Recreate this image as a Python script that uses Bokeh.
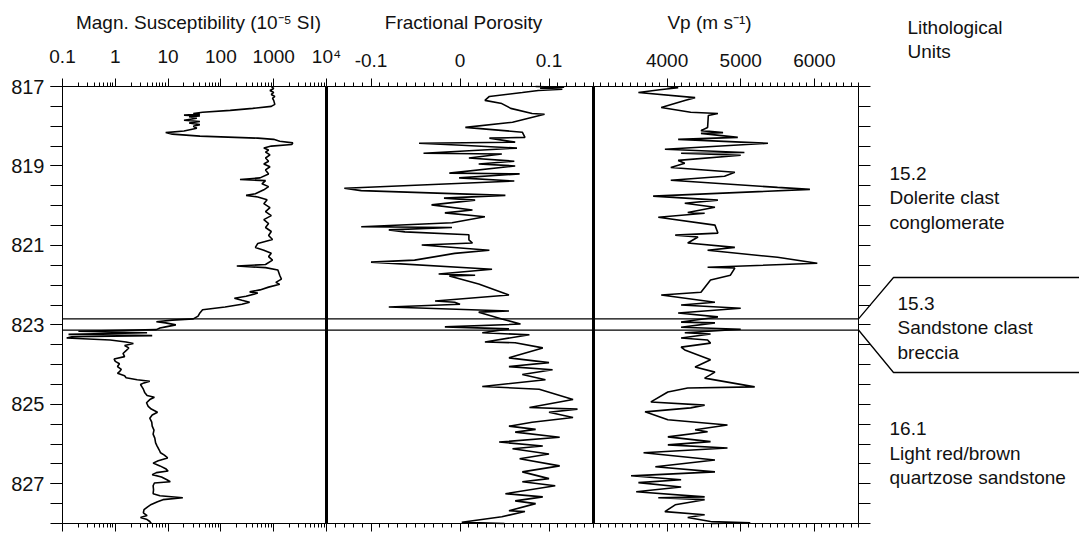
from bokeh.plotting import figure
from bokeh.models import (Range1d, LinearAxis, LogAxis, LogScale, FixedTicker,
                          Label, CustomJSTickFormatter)
from bokeh.embed import file_html
from bokeh.resources import INLINE
import math

# ---------------- data ----------------
mag_depth = [817.00, 817.05, 817.10, 817.15, 817.20, 817.25, 817.30, 817.35, 817.45, 817.50,
             817.55, 817.60, 817.65, 817.68, 817.70, 817.72, 817.74, 817.76, 817.80, 817.85,
             817.88, 817.92, 817.96, 818.00, 818.05, 818.12, 818.16, 818.20, 818.25, 818.30,
             818.33, 818.38, 818.42, 818.46, 818.50, 818.55, 818.60, 818.65, 818.72, 818.80,
             818.88, 818.95, 819.02, 819.10, 819.20, 819.30, 819.34, 819.37, 819.45, 819.52,
             819.60, 819.70, 819.74, 819.78, 819.85, 819.95, 820.05, 820.15, 820.25, 820.35,
             820.45, 820.55, 820.65, 820.75, 820.85, 820.95, 821.05, 821.12, 821.20, 821.28,
             821.37, 821.48, 821.52, 821.56, 821.62, 821.75, 821.85, 821.93, 821.98, 822.05,
             822.12, 822.17, 822.20, 822.28, 822.33, 822.38, 822.43, 822.48, 822.55, 822.62,
             822.70, 822.78, 822.85, 822.88, 822.92, 822.95, 823.00, 823.05, 823.08, 823.12,
             823.16, 823.20, 823.24, 823.27, 823.30, 823.33, 823.38, 823.43, 823.47, 823.52,
             823.58, 823.65, 823.72, 823.80, 823.86, 823.92, 823.98, 824.05, 824.12, 824.18,
             824.22, 824.28, 824.33, 824.38, 824.42, 824.46, 824.50, 824.56, 824.62, 824.70,
             824.78, 824.82, 824.88, 824.96, 825.05, 825.12, 825.20, 825.27, 825.35, 825.45,
             825.55, 825.65, 825.75, 825.85, 825.97, 826.05, 826.15, 826.22, 826.28, 826.35,
             826.42, 826.48, 826.55, 826.62, 826.68, 826.72, 826.77, 826.83, 826.90, 826.95,
             826.98, 827.05, 827.15, 827.25, 827.30, 827.35, 827.40, 827.45, 827.52, 827.58,
             827.65, 827.73, 827.80, 827.85, 827.90, 827.95, 828.00]
mag_value = [900, 1000, 850, 1000, 900, 1050, 950, 1000, 1050, 900,
             400, 150, 45, 30, 40, 20, 40, 25, 35, 20,
             40, 25, 40, 30, 35, 20, 9, 12, 40, 500,
             1000, 1300, 2300, 2200, 900, 650, 800, 700, 850, 700,
             800, 650, 850, 700, 800, 550, 230, 700, 600, 800,
             650, 450, 300, 500, 750, 650, 850, 700, 900, 650,
             800, 700, 900, 800, 950, 500, 450, 650, 900, 800,
             950, 700, 200, 700, 1200, 1300, 1400, 1100, 1300, 800,
             550, 350, 500, 300, 180, 250, 350, 250, 120, 45,
             40, 37, 30, 12, 6, 9, 14, 9, 7, 6,
             0.2, 4, 0.13, 5, 0.15, 0.12, 0.8, 1.6, 2.2, 1.5,
             1.8, 1.6, 1.4, 1.5, 0.95, 1.0, 1.2, 1.1, 1.3, 1.2,
             1.1, 1.5, 1.6, 2.6, 4.5, 3.5, 3.0, 3.2, 3.4, 3.6,
             4.0, 5.5, 4.5, 3.9, 4.2, 4.8, 6.3, 5.0, 4.5, 4.9,
             5.0, 5.4, 5.2, 5.6, 5.8, 6.2, 6.8, 7.2, 8.5, 9.8,
             6.5, 5.2, 7.0, 9.0, 10.0, 6.0, 5.0, 7.5, 9.5, 11,
             5.5, 5.2, 5.3, 5.2, 7, 19, 8, 6.3, 4.8, 4.1,
             3.5, 3.4, 4.0, 3.0, 4.0, 4.5, 4.8]

por_depth = [817.00, 817.02, 817.04, 817.07, 817.10, 817.15, 817.25, 817.35, 817.43, 817.55,
             817.68, 817.70, 817.90, 818.03, 818.15, 818.28, 818.30, 818.40, 818.43, 818.48,
             818.55, 818.68, 818.70, 818.80, 818.88, 818.95, 819.00, 819.18, 819.20, 819.30,
             819.38, 819.56, 819.62, 819.74, 819.81, 819.86, 819.98, 820.11, 820.18, 820.28,
             820.43, 820.53, 820.55, 820.61, 820.66, 820.73, 820.86, 820.94, 820.99, 821.12,
             821.20, 821.37, 821.42, 821.60, 821.72, 821.75, 821.77, 821.97, 822.25, 822.40,
             822.43, 822.48, 822.55, 822.65, 822.68, 822.85, 822.98, 823.05, 823.10, 823.20,
             823.25, 823.43, 823.45, 823.58, 823.83, 823.95, 824.05, 824.13, 824.25, 824.38,
             824.55, 824.62, 824.88, 825.08, 825.12, 825.20, 825.33, 825.45, 825.55, 825.63,
             825.70, 825.83, 825.95, 826.05, 826.12, 826.25, 826.37, 826.55, 826.70, 826.87,
             826.95, 827.05, 827.25, 827.33, 827.43, 827.50, 827.68, 827.70, 827.83, 827.97,
             828.00]
por_value = [0.085, 0.117, 0.090, 0.115, 0.088, 0.070, 0.033, 0.028, 0.047, 0.057,
             0.081, 0.095, 0.059, 0.006, 0.070, 0.073, 0.033, 0.062, -0.046, 0.002,
             0.064, -0.041, 0.047, 0.010, 0.061, 0.021, 0.062, -0.012, 0.067, -0.001,
             0.061, -0.130, -0.111, 0.051, -0.018, 0.017, -0.032, 0.014, -0.017, 0.028,
             -0.009, -0.111, -0.009, -0.080, -0.062, 0.010, 0.010, 0.014, -0.043, 0.033,
             -0.006, -0.051, -0.100, 0.036, -0.024, 0.017, -0.012, 0.021, 0.055, -0.028,
             -0.006, 0.000, -0.080, 0.055, 0.021, 0.047, 0.068, -0.017, 0.055, 0.025,
             0.078, 0.028, 0.062, 0.093, 0.055, 0.100, 0.055, 0.104, 0.070, 0.096,
             0.025, 0.089, 0.127, 0.078, 0.132, 0.100, 0.127, 0.081, 0.055, 0.085,
             0.062, 0.112, 0.044, 0.093, 0.059, 0.100, 0.067, 0.112, 0.070, 0.100,
             0.070, 0.107, 0.051, 0.093, 0.062, 0.085, 0.055, 0.073, 0.047, 0.002,
             0.050]

vp_depth = [817.00, 817.03, 817.08, 817.15, 817.28, 817.35, 817.53, 817.65, 817.68, 817.73,
            818.03, 818.11, 818.16, 818.18, 818.28, 818.33, 818.43, 818.58, 818.66, 818.68,
            818.73, 818.86, 818.93, 819.04, 819.16, 819.26, 819.36, 819.54, 819.59, 819.76,
            819.86, 819.94, 820.04, 820.17, 820.19, 820.29, 820.49, 820.69, 820.74, 820.79,
            820.94, 821.05, 821.12, 821.30, 821.45, 821.55, 821.57, 821.75, 821.87, 822.18,
            822.25, 822.43, 822.50, 822.58, 822.70, 822.80, 822.93, 822.95, 823.06, 823.11,
            823.20, 823.23, 823.33, 823.38, 823.46, 823.56, 823.63, 823.88, 824.06, 824.19,
            824.34, 824.56, 824.59, 824.69, 824.94, 825.02, 825.09, 825.19, 825.39, 825.52,
            825.64, 825.69, 825.82, 825.94, 826.02, 826.10, 826.22, 826.40, 826.57, 826.70,
            826.80, 826.90, 826.97, 827.08, 827.20, 827.33, 827.35, 827.40, 827.53, 827.70,
            827.78, 827.85, 827.95, 827.98, 828.00]
vp_value = [4000, 4150, 3900, 3610, 4380, 4240, 3920, 4320, 4690, 4560,
            4550, 4460, 4760, 4460, 4960, 4150, 5370, 3970, 5050, 4190,
            5000, 4150, 4240, 4050, 4920, 4780, 4050, 5500, 5940, 3810,
            4690, 4240, 4650, 4280, 4510, 3880, 4650, 4690, 4110, 4420,
            4280, 4920, 4550, 5500, 6040, 4550, 4920, 4860, 4590, 4460,
            3920, 4650, 4190, 5000, 4150, 4690, 4190, 4650, 4190, 5000,
            4240, 4590, 4190, 4550, 4590, 4190, 4240, 4590, 4380, 4650,
            4510, 5190, 4280, 4010, 3780, 4510, 4320, 3700, 4010, 4820,
            4380, 4550, 4010, 4590, 4010, 4820, 3680, 4650, 3840, 4650,
            3510, 4190, 3610, 4190, 3580, 4510, 3880, 4510, 4110, 3970,
            4510, 4280, 4590, 5130, 4600]

depth_min, depth_max = 817.0, 828.0
depth_labels = [817, 819, 821, 823, 825, 827]
mag_ticks = [0.1, 1, 10, 100, 1000, 10000]
por_ticks = [-0.1, 0.0, 0.1]
vp_ticks = [4000, 5000, 6000]
mag_lim = (0.1, 1e4)
por_lim = (-0.15, 0.15)
vp_lim = (3000, 6600)

unit_boundaries = [822.85, 823.13]
units = [("15.2", "Dolerite clast", "conglomerate"),
         ("15.3", "Sandstone clast", "breccia"),
         ("16.1", "Light red/brown", "quartzose sandstone")]

titles = ["Magn. Susceptibility (10\u207b\u2075 SI)", "Fractional Porosity", "Vp (m s\u207b\u00b9)"]

# ---------------- layout (page px) ----------------
FONT = "Liberation Sans"
FS = "19px"
INK = "#111111"
W, H = 1079, 533
EDGES = [62, 326, 593, 858]
TRACK_T, TRACK_B = 86, 523          # page y of depth_min / depth_max
PX_PER_M = (TRACK_B - TRACK_T) / (depth_max - depth_min)


def page_y(y):
    return depth_min + (y - TRACK_T) / PX_PER_M


def lin_range(v0, v1, a, b):
    per = (v1 - v0) / (b - a)
    return Range1d(v0 - a * per, v1 + (W - b) * per)


def log_range(v0, v1, a, b):
    l0, l1 = math.log10(v0), math.log10(v1)
    per = (l1 - l0) / (b - a)
    return Range1d(10 ** (l0 - a * per), 10 ** (l1 + (W - b) * per))


p = figure(width=W, height=H, x_range=Range1d(0, W),
           y_range=Range1d(page_y(H), page_y(0)),
           min_border_left=0, min_border_right=0,
           min_border_top=0, min_border_bottom=0,
           x_axis_location=None, y_axis_location=None,
           toolbar_location=None, output_backend="svg")
p.title.visible = False
p.outline_line_color = None
p.xgrid.visible = False
p.ygrid.visible = False
p.background_fill_color = "white"
p.border_fill_color = "white"

p.extra_x_ranges = {
    "mag": log_range(mag_lim[0], mag_lim[1], EDGES[0], EDGES[1]),
    "por": lin_range(por_lim[0], por_lim[1], EDGES[1], EDGES[2]),
    "vp": lin_range(vp_lim[0], vp_lim[1], EDGES[2], EDGES[3]),
}
p.extra_x_scales = {"mag": LogScale()}

half_steps = [depth_min + 0.5 * i for i in range(int((depth_max - depth_min) * 2) + 1)]


def style_axis(ax, labels=True, tick_out=8, minor_out=4, fs=FS):
    ax.axis_line_color = "black"
    ax.axis_line_width = 1
    ax.major_tick_line_color = "black"
    ax.minor_tick_line_color = "black"
    ax.major_tick_out = tick_out
    ax.major_tick_in = 0
    ax.minor_tick_out = minor_out
    ax.minor_tick_in = 0
    ax.major_tick_line_width = 1
    ax.minor_tick_line_width = 1
    ax.major_label_text_font = FONT
    ax.major_label_text_color = INK
    ax.major_label_text_font_size = fs
    if not labels:
        ax.major_label_text_alpha = 0


# left depth axis (at the left edge of the first track)
lax = LinearAxis(fixed_location=EDGES[0], bounds=(depth_min, depth_max),
                 ticker=FixedTicker(ticks=depth_labels, minor_ticks=half_steps))
style_axis(lax, tick_out=12, minor_out=12, fs="20px")
lax.major_label_standoff = 6
p.add_layout(lax, "left")

# right depth ticks on Vp panel
rax = LinearAxis(x_range_name="vp", fixed_location=vp_lim[1], bounds=(depth_min, depth_max),
                 ticker=FixedTicker(ticks=half_steps))
style_axis(rax, labels=False, tick_out=12)
p.add_layout(rax, "right")

mag_minor = [d * k for d in mag_ticks[:-1] for k in range(2, 10)]
por_minor = [round(por_lim[0] + 0.01 * i, 2) for i in range(31)]
vp_minor = list(range(vp_lim[0], vp_lim[1] + 1, 100))

mag_fmt = CustomJSTickFormatter(code="""
if (tick > 5000) return "10\u2074";
if (tick < 0.5) return "0.1";
return tick.toFixed(0);""")
vp_fmt = CustomJSTickFormatter(code="return tick.toFixed(0);")
por_fmt = CustomJSTickFormatter(code="""
if (Math.abs(tick) < 1e-9) return "0";
return tick.toFixed(1);""")

for loc, place, labels in [(depth_min, "above", True), (depth_max, "below", False)]:
    a1 = LogAxis(x_range_name="mag", fixed_location=loc, bounds=mag_lim,
                 ticker=FixedTicker(ticks=mag_ticks, minor_ticks=mag_minor), formatter=mag_fmt)
    a2 = LinearAxis(x_range_name="por", fixed_location=loc, bounds=por_lim,
                    ticker=FixedTicker(ticks=por_ticks, minor_ticks=por_minor), formatter=por_fmt)
    a3 = LinearAxis(x_range_name="vp", fixed_location=loc, bounds=vp_lim,
                    ticker=FixedTicker(ticks=vp_ticks, minor_ticks=vp_minor), formatter=vp_fmt)
    for a in (a1, a2, a3):
        style_axis(a, labels=labels, tick_out=8, minor_out=4)
        a.major_label_standoff = 12
        p.add_layout(a, place)

# thick panel separators
p.line(x=[mag_lim[1], mag_lim[1]], y=[depth_min, depth_max], x_range_name="mag",
       line_color="black", line_width=3)
p.line(x=[por_lim[1], por_lim[1]], y=[depth_min, depth_max], x_range_name="por",
       line_color="black", line_width=3)

# curves
p.line(x=mag_value, y=mag_depth, x_range_name="mag", line_color="black", line_width=1.6)
p.line(x=por_value, y=por_depth, x_range_name="por", line_color="black", line_width=1.6)
p.line(x=vp_value, y=vp_depth, x_range_name="vp", line_color="black", line_width=1.6)

# unit boundaries with brackets to the labels
bracket_top, bracket_bot = page_y(277), page_y(372)
knee_x = 893
p.line(x=[EDGES[0], EDGES[3], knee_x, W],
       y=[unit_boundaries[0], unit_boundaries[0], bracket_top, bracket_top],
       line_color="black", line_width=1.3)
p.line(x=[EDGES[0], EDGES[3], knee_x, W],
       y=[unit_boundaries[1], unit_boundaries[1], bracket_bot, bracket_bot],
       line_color="black", line_width=1.3)

# unit labels
unit_pos = [(889, [173, 197, 222]), (897, [303, 327, 352]), (889, [428, 453, 477])]
for (xp, ys), lines in zip(unit_pos, units):
    for yy, t in zip(ys, lines):
        p.add_layout(Label(x=xp, y=page_y(yy), text=t, text_font=FONT, text_font_size=FS,
                           text_color=INK, text_align="left", text_baseline="middle"))

p.add_layout(Label(x=907, y=page_y(27), text="Lithological", text_font=FONT, text_font_size=FS,
                   text_color=INK, text_align="left", text_baseline="middle"))
p.add_layout(Label(x=907, y=page_y(51), text="Units", text_font=FONT, text_font_size=FS,
                   text_color=INK, text_align="left", text_baseline="middle"))

for xc, t in zip([198, 463, 709], titles):
    p.add_layout(Label(x=xc, y=page_y(22), text=t, text_font=FONT, text_font_size=FS,
                       text_color=INK, text_align="center", text_baseline="middle"))

open("out.html", "w").write(file_html(p, INLINE))
